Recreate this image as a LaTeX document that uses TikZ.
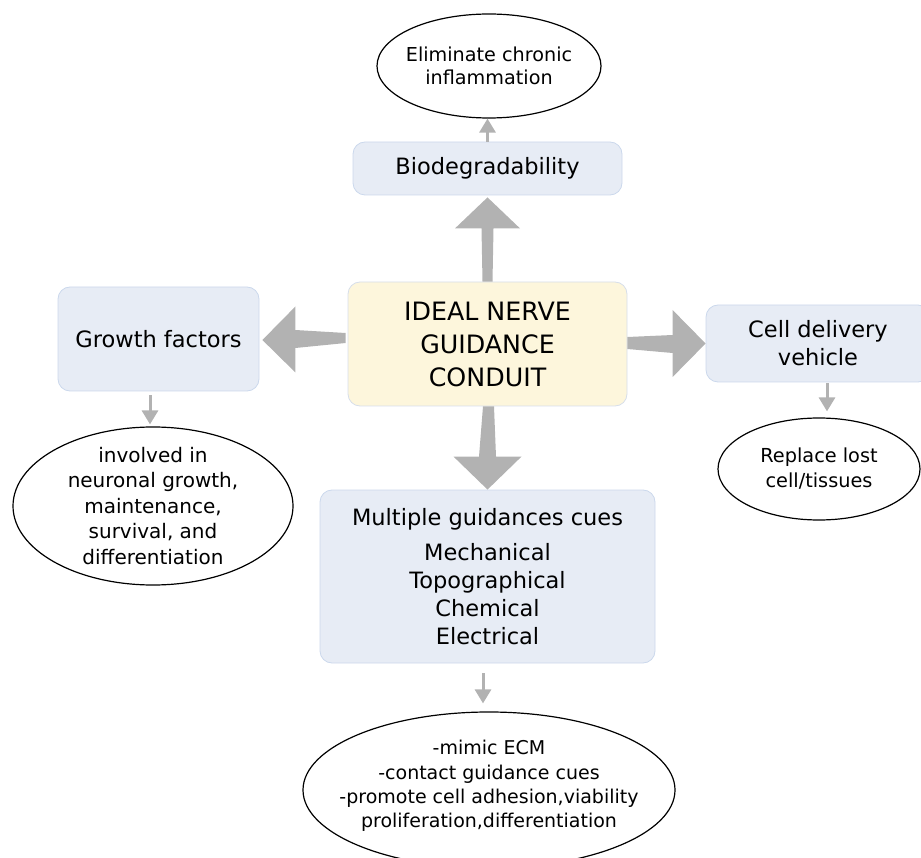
\documentclass[tikz,border=0pt]{standalone}
\usepackage{fontspec}
\setmainfont{DejaVu Sans}
\usetikzlibrary{shapes.geometric,arrows.meta,calc}
\definecolor{boxfill}{HTML}{E7ECF5}
\definecolor{boxline}{HTML}{CBD8EC}
\definecolor{corefill}{HTML}{FDF6DC}
\definecolor{coreline}{HTML}{D6DEEA}
\definecolor{arrowgray}{RGB}{178,178,178}
\begin{document}
\begin{tikzpicture}[x=1pt,y=-1pt,
  bluebox/.style={draw=boxline, fill=boxfill, line width=0.8pt, rounded corners=12pt, align=center, inner sep=0pt, font=\fontsize{22.5pt}{28pt}\selectfont},
  corebox/.style={bluebox, draw=coreline, fill=corefill, font=\fontsize{25.3pt}{33pt}\selectfont},
  oval/.style={draw=black, line width=1.2pt, ellipse, inner sep=0pt},
  ovaltext/.style={align=center, inner sep=0pt},
  fatarrow/.style={fill=arrowgray, draw=none},
  thinarrow/.style={draw=arrowgray, line width=3pt, -{Triangle[length=14pt,width=16pt]}}
]
\useasboundingbox (0,0) rectangle (921,858);
\clip (0,0) rectangle (921,858);

% boxes
\node[bluebox, minimum width=269pt, minimum height=53pt] (bio) at (487.5,168.5) {Biodegradability};
\node[corebox, minimum width=279pt, minimum height=124pt] (core) at (487.5,344) {IDEAL NERVE\\GUIDANCE\\CONDUIT};
\node[bluebox, minimum width=201pt, minimum height=104pt] (grow) at (158.5,339) {Growth factors};
\node[bluebox, minimum width=224pt, minimum height=77pt] (cell) at (818,343.5) {Cell delivery\\vehicle};
\node[bluebox, minimum width=335pt, minimum height=173pt] (multi) at (487.5,576.5) {Multiple guidances cues\\[7pt]Mechanical\\Topographical\\Chemical\\Electrical};

% ellipses (outline) and their texts
\node[oval, minimum width=224pt, minimum height=104pt] (elim) at (489,66) {};
\node[ovaltext, font=\fontsize{19.2pt}{23pt}\selectfont] (elimtext) at (elim.center) {Eliminate chronic\\inflammation};
\node[oval, minimum width=280pt, minimum height=158pt] (inv) at (153,506) {};
\node[ovaltext, font=\fontsize{20pt}{25.5pt}\selectfont] (invtext) at (inv.center) {involved in\\neuronal growth,\\maintenance,\\survival, and\\differentiation};
\node[oval, minimum width=202pt, minimum height=102pt] (repl) at (819,469) {};
\node[ovaltext, font=\fontsize{19.3pt}{25pt}\selectfont] (repltext) at (repl.center) {Replace lost\\cell/tissues};
\node[oval, minimum width=372pt, minimum height=156pt] (mimic) at (489,790) {};
\node[ovaltext, font=\fontsize{19pt}{24.3pt}\selectfont] (mimictext) at ([yshift=4pt]mimic.center) {-mimic ECM\\-contact guidance cues\\-promote cell adhesion,viability\\proliferation,differentiation};

% fat arrows
\fill[fatarrow] ($(core.north)+(-5,0)$) -- ($(bio.south)+(-6,33)$) -- ($(bio.south)+(-32.5,33)$) -- ($(bio.south)+(0,2)$) -- ($(bio.south)+(32.5,33)$) -- ($(bio.south)+(6,33)$) -- ($(core.north)+(5,0)$) -- cycle;
\fill[fatarrow] ($(core.south)+(-4.5,0)$) -- ($(multi.north)+(-8.5,-33)$) -- ($(multi.north)+(-34,-33)$) -- (multi.north) -- ($(multi.north)+(34,-33)$) -- ($(multi.north)+(8.5,-33)$) -- ($(core.south)+(6.5,0)$) -- cycle;
\fill[fatarrow] ($(core.west)+(-2,-11)$) -- ($(grow.east)+(36,-9)$) -- ($(grow.east)+(36,-32.5)$) -- ($(grow.east)+(3,1)$) -- ($(grow.east)+(36,33.5)$) -- ($(grow.east)+(36,9)$) -- ($(core.west)+(-2,-1)$) -- cycle;
\fill[fatarrow] ($(core.east)+(0,-7)$) -- ($(cell.west)+(-33,-8.5)$) -- ($(cell.west)+(-33,-33.5)$) -- (cell.west) -- ($(cell.west)+(-33,33.5)$) -- ($(cell.west)+(-33,9.5)$) -- ($(core.east)+(0,5)$) -- cycle;

% thin arrows
\draw[thinarrow] (bio.north) -- (bio.north |- elim.south);
\coordinate (g1) at ([xshift=-8.5pt]grow.south);
\draw[thinarrow, shorten <=4pt, shorten >=2pt] (g1) -- (g1 |- inv.north);
\coordinate (c1) at ([xshift=9pt]cell.south);
\draw[thinarrow, shorten <=1pt, shorten >=6pt] (c1) -- (c1 |- repl.north);
\coordinate (m1) at ([xshift=-4.5pt]multi.south);
\draw[thinarrow, shorten <=10pt, shorten >=8pt] (m1) -- (m1 |- mimic.north);
\end{tikzpicture}
\end{document}
